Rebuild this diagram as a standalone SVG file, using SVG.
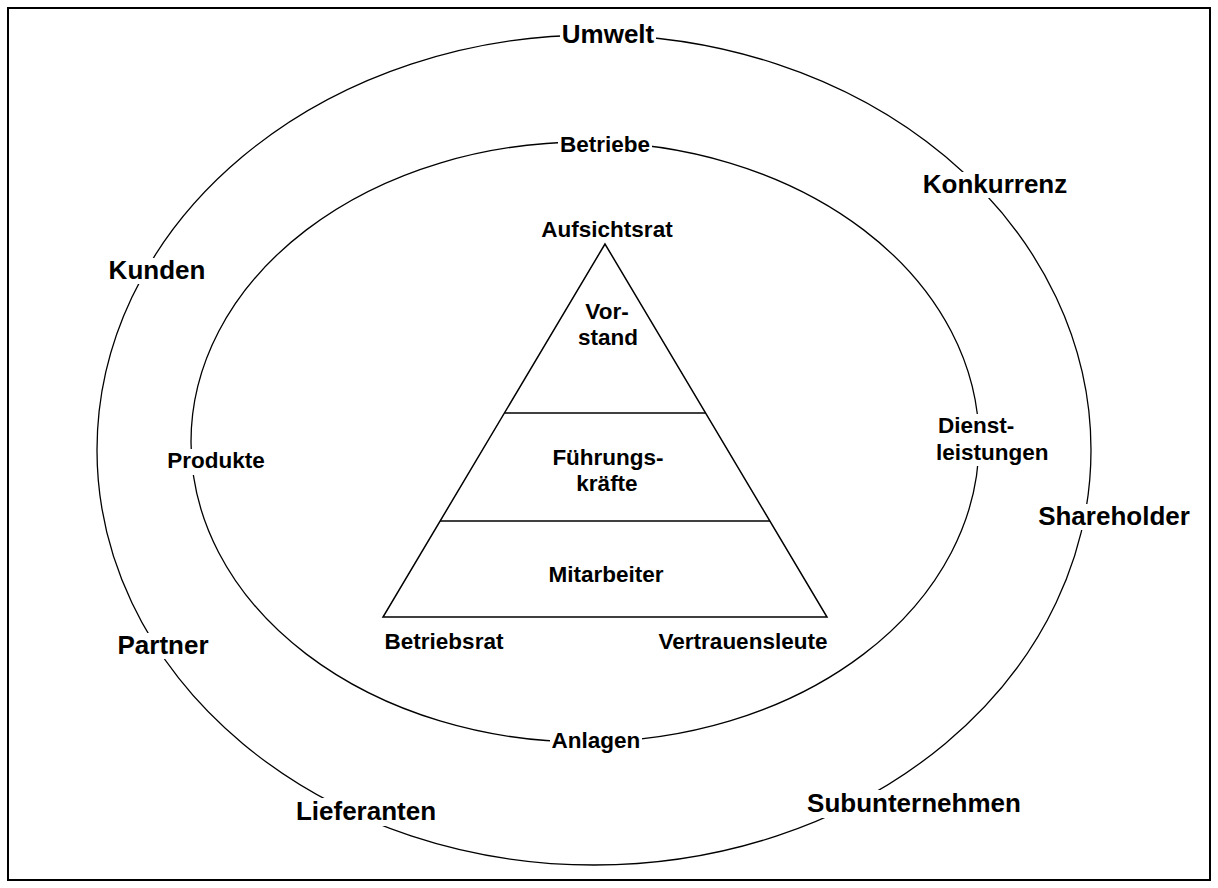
<svg xmlns="http://www.w3.org/2000/svg" width="1218" height="888" viewBox="0 0 1218 888">
  <style>
    .frame { fill: #ffffff; stroke: #000000; stroke-width: 2; }
    .ring { fill: none; stroke: #000000; stroke-width: 1.3; }
    .pyr { fill: none; stroke: #000000; stroke-width: 1.5; stroke-linejoin: miter; }
    .bg { fill: #ffffff; stroke: none; }
    .big { font-family: "Liberation Sans", Arial, sans-serif; font-weight: bold; font-size: 26px; fill: #000000; text-anchor: middle; }
    .small { font-family: "Liberation Sans", Arial, sans-serif; font-weight: bold; font-size: 22.5px; fill: #000000; text-anchor: middle; }
  </style>

  <!-- frame -->
  <rect class="frame" x="8" y="8" width="1202" height="872"/>

  <!-- rings and pyramid outlines -->
  <g id="connectors">
    <ellipse id="umwelt-ring" class="ring" cx="594" cy="450" rx="497" ry="415"/>
    <ellipse id="betriebe-ring" class="ring" cx="585" cy="442" rx="394" ry="300"/>
    <polygon class="pyr" points="605,244 383,617 827,617"/>
    <line class="pyr" x1="504.4" y1="413" x2="705.6" y2="413"/>
    <line class="pyr" x1="440" y1="521" x2="770" y2="521"/>
  </g>

  <!-- outer ring labels -->
  <g id="umwelt">
    <rect class="bg" x="560" y="24" width="96" height="24"/>
    <text class="big" x="608" y="43">Umwelt</text>
  </g>
  <g id="konkurrenz">
    <rect class="bg" x="920" y="172" width="152" height="26"/>
    <text class="big" x="995" y="193">Konkurrenz</text>
  </g>
  <g id="kunden">
    <rect class="bg" x="106" y="258" width="102" height="26"/>
    <text class="big" x="157" y="279">Kunden</text>
  </g>
  <g id="shareholder">
    <rect class="bg" x="1036" y="504" width="158" height="26"/>
    <text class="big" x="1114" y="525">Shareholder</text>
  </g>
  <g id="partner">
    <rect class="bg" x="113" y="633" width="100" height="26"/>
    <text class="big" x="163" y="654">Partner</text>
  </g>
  <g id="lieferanten">
    <rect class="bg" x="294" y="798" width="144" height="28"/>
    <text class="big" x="366" y="820">Lieferanten</text>
  </g>
  <g id="subunternehmen">
    <rect class="bg" x="804" y="790" width="222" height="28"/>
    <text class="big" x="914" y="812">Subunternehmen</text>
  </g>

  <!-- inner ring labels -->
  <g id="betriebe">
    <rect class="bg" x="558" y="132" width="94" height="24"/>
    <text class="small" x="605" y="152">Betriebe</text>
  </g>
  <g id="produkte">
    <rect class="bg" x="164" y="449" width="104" height="26"/>
    <text class="small" x="216" y="468">Produkte</text>
  </g>
  <g id="dienstleistungen">
    <rect class="bg" x="934" y="414" width="116" height="52"/>
    <text class="small" x="938" y="433" style="text-anchor:start">Dienst-</text>
    <text class="small" x="936" y="460" style="text-anchor:start">leistungen</text>
  </g>
  <g id="anlagen">
    <rect class="bg" x="550" y="729" width="92" height="26"/>
    <text class="small" x="596" y="748">Anlagen</text>
  </g>

  <!-- pyramid labels -->
  <g id="aufsichtsrat">
    <text class="small" x="607" y="237">Aufsichtsrat</text>
  </g>
  <g id="vorstand">
    <text class="small" x="607" y="319">Vor-</text>
    <text class="small" x="608" y="345">stand</text>
  </g>
  <g id="fuehrungskraefte">
    <text class="small" x="608" y="465">Führungs-</text>
    <text class="small" x="607" y="491">kräfte</text>
  </g>
  <g id="mitarbeiter">
    <text class="small" x="606" y="582">Mitarbeiter</text>
  </g>
  <g id="betriebsrat">
    <text class="small" x="444" y="649">Betriebsrat</text>
  </g>
  <g id="vertrauensleute">
    <text class="small" x="743" y="649">Vertrauensleute</text>
  </g>
</svg>
